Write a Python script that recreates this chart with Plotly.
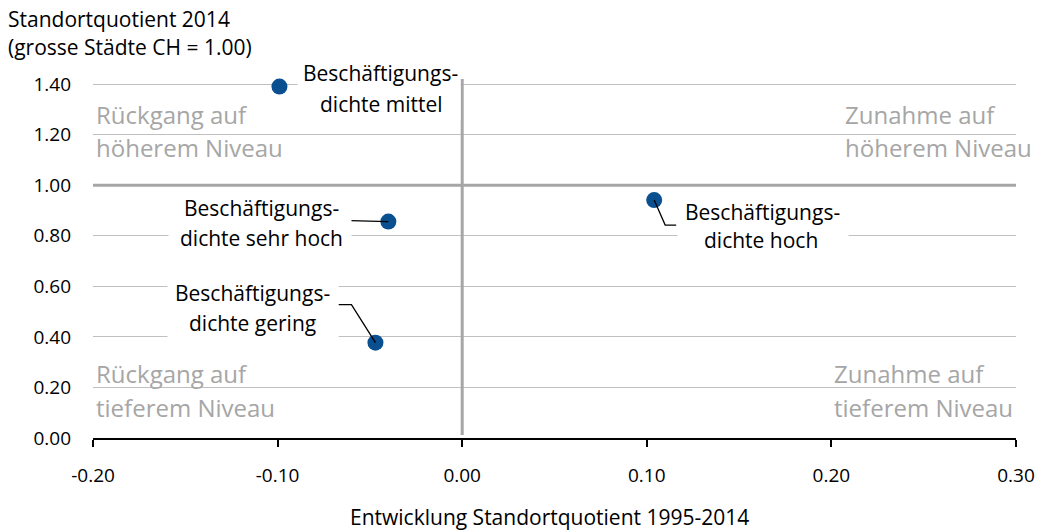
import plotly.graph_objects as go

# ---------------- data ----------------
labels_line1 = ["Beschäftigungs-", "Beschäftigungs-", "Beschäftigungs-", "Beschäftigungs-"]
labels_line2 = ["dichte mittel", "dichte sehr hoch", "dichte gering", "dichte hoch"]
x_dev = [-0.099, -0.040, -0.047, 0.104]
y_lq = [1.39, 0.856, 0.377, 0.941]

x_ticks = [-0.20, -0.10, 0.00, 0.10, 0.20, 0.30]
y_ticks = [0.00, 0.20, 0.40, 0.60, 0.80, 1.00, 1.20, 1.40]

quadrants = [["Rückgang auf", "höherem Niveau"], ["Zunahme auf", "höherem Niveau"],
             ["Rückgang auf", "tieferem Niveau"], ["Zunahme auf", "tieferem Niveau"]]

y_title = ["Standortquotient 2014", "(grosse Städte CH = 1.00)"]
x_title = "Entwicklung Standortquotient 1995-2014"

# ---------------- layout geometry ----------------
W, H = 1039, 530
SL, ST = 93, 79              # plot area left/top
PW, PH = 923, 359            # plot area size
L, T = SL, ST
R, B = W - L - PW, H - T - PH
XR = [-0.20, 0.30]
YR = [0.0, 1.42]
FONT = "Open Sans"
GREY = "#a6a6a6"


def dx(px):
    return px * (XR[1] - XR[0]) / PW


def dy(px):  # px measured downward on screen
    return -px * (YR[1] - YR[0]) / PH


def paper_x(px):  # screen px -> paper
    return (px - SL) / PW


def paper_y(py):
    return (ST + PH - py) / PH


# per-label style: text line centres, white box, leader path (pixels relative to point, y down)
label_style = [
    dict(l1=(101, -14), l2=(102, 17), box=(18, 180, -26, 32), leader=None),
    dict(l1=(-127, -14), l2=(-127, 16), box=(-220, -38, -28, 28), leader=[(-38, -1), (0, 0)]),
    dict(l1=(-123, -50), l2=(-123, -20), box=(-208, -38, -63, -3), leader=[(-37, -38), (-24, -38), (0, 0)]),
    dict(l1=(108, 12), l2=(107, 40), box=(23, 193, -2, 55), leader=[(0, 0), (11, 25), (22, 25)]),
]

fig = go.Figure()
fig.add_trace(go.Scatter(
    x=x_dev, y=y_lq, mode="markers",
    marker=dict(size=16, color="#0a4f8f", line=dict(width=0)),
    hoverinfo="skip", showlegend=False, cliponaxis=False,
))

shapes = []
annotations = []

# heavy reference lines
shapes.append(dict(type="line", xref="x", yref="y", x0=XR[0], x1=XR[1] + dx(2), y0=1.0, y1=1.0,
                   line=dict(color=GREY, width=3), layer="between"))
shapes.append(dict(type="line", xref="x", yref="y", x0=0.0, x1=0.0, y0=dy(-3), y1=YR[1],
                   line=dict(color=GREY, width=3), layer="between"))

# labels
for i, st in enumerate(label_style):
    px0, py0 = x_dev[i], y_lq[i]
    bx0, bx1, by0, by1 = st["box"]
    annotations.append(dict(
        xref="x", yref="y", x=px0, y=py0, xshift=bx0, yshift=-by0, xanchor="left", yanchor="top",
        text=" ", showarrow=False, width=bx1 - bx0, height=by1 - by0, bgcolor="white", borderpad=0,
        font=dict(size=2)))
    for key, txt in (("l1", labels_line1[i]), ("l2", labels_line2[i])):
        ox, oy = st[key]
        annotations.append(dict(
            xref="x", yref="y", x=px0, y=py0, xshift=ox, yshift=-oy, xanchor="center", yanchor="middle",
            text=txt, showarrow=False, font=dict(family=FONT, size=21, color="black")))
    if st["leader"]:
        pts = st["leader"]
        path = "M " + " L ".join(f"{px0 + dx(a)},{py0 + dy(b)}" for a, b in pts)
        shapes.append(dict(type="path", xref="x", yref="y", path=path,
                           line=dict(color="black", width=1.3), layer="above"))

# quadrant labels (left-aligned blocks)
quad_pos = [(94, 114, 147), (843, 114, 147), (94, 373, 407), (832, 373, 407)]
for (lx, ly1, ly2), lines in zip(quad_pos, quadrants):
    for ly, txt in ((ly1, lines[0]), (ly2, lines[1])):
        annotations.append(dict(
            xref="paper", yref="paper", x=paper_x(lx), y=paper_y(ly), xanchor="left", yanchor="middle",
            text=txt, showarrow=False, font=dict(family=FONT, size=24, color=GREY)))

# axis titles
for ly, txt in ((19, y_title[0]), (47, y_title[1])):
    annotations.append(dict(xref="paper", yref="paper", x=paper_x(6), y=paper_y(ly),
                            xanchor="left", yanchor="middle", text=txt, showarrow=False,
                            font=dict(family=FONT, size=21, color="black")))
annotations.append(dict(xref="paper", yref="paper", x=paper_x(549), y=paper_y(517),
                        xanchor="center", yanchor="middle", text=x_title, showarrow=False,
                        font=dict(family=FONT, size=21, color="black")))

fig.update_layout(
    width=W, height=H,
    margin=dict(l=L, r=R, t=T, b=B, pad=0, autoexpand=False),
    paper_bgcolor="white", plot_bgcolor="white",
    font=dict(family=FONT, size=19, color="black"),
    shapes=shapes, annotations=annotations,
    xaxis=dict(range=XR, tickvals=x_ticks, ticktext=[f"{v:.2f}" for v in x_ticks],
               showgrid=False, zeroline=False, showline=True, linecolor="black", linewidth=2,
               ticks="outside", ticklen=7, tickwidth=2, tickcolor="black", ticklabelstandoff=12,
               ticklabeloverflow="allow", automargin=False,
               tickfont=dict(family=FONT, size=19, color="black")),
    yaxis=dict(range=YR, tickvals=y_ticks, ticktext=[f"{v:.2f}" for v in y_ticks],
               showgrid=True, gridcolor="#c0c0c0", gridwidth=1.3, zeroline=False, showline=False,
               ticks="", ticklabelstandoff=21, automargin=False,
               tickfont=dict(family=FONT, size=19, color="black")),
)

fig.write_html("out.html", config={"displayModeBar": False},
               post_script="document.body.style.margin='0';document.body.style.overflow='hidden';")
